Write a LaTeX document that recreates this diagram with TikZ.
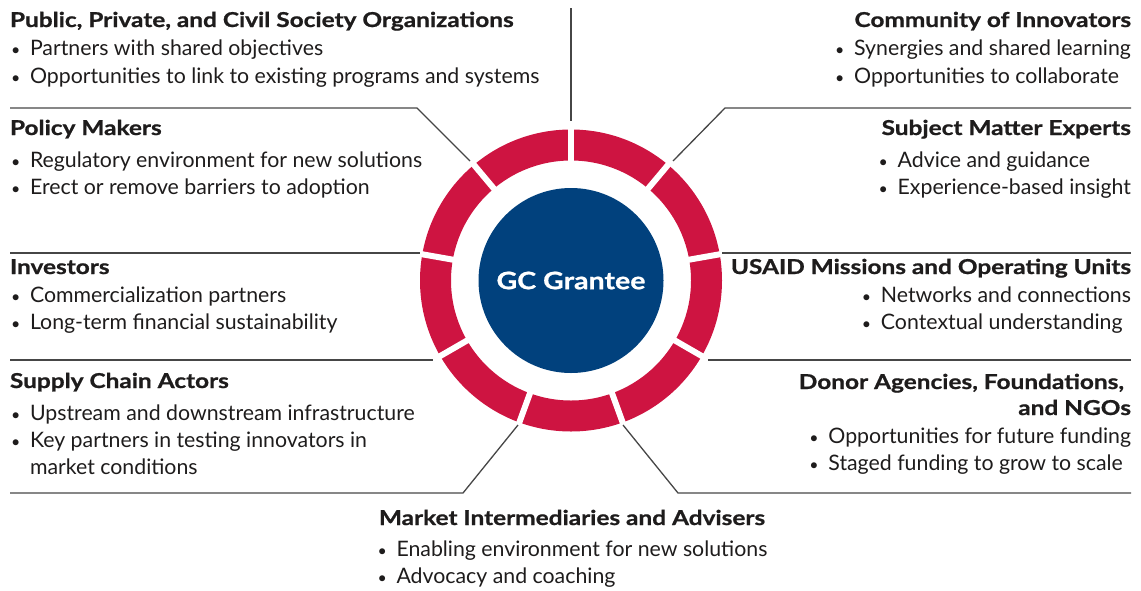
\documentclass[tikz,border=0pt]{standalone}
\usepackage{fontspec}
\setmainfont{Lato}[BoldFeatures={FakeStretch=1.19,FakeBold=0.9}]
\definecolor{ringred}{RGB}{206,20,65}
\definecolor{gcblue}{RGB}{1,65,125}
\definecolor{txtc}{RGB}{30,28,28}
\definecolor{rulec}{RGB}{70,70,70}
\newcommand\bul{\makebox[20pt][l]{\hspace{1pt}\scalebox{0.75}{\textbullet}}}
\newlength\wCom \newlength\wSme \newlength\wUsa \newlength\wDon \newlength\wMkt
\begin{document}
\fontsize{21.3}{25}\selectfont
\settowidth\wCom{\bul Synergies and shared learning}
\settowidth\wSme{\bul Experience-based insight}
\settowidth\wUsa{\bul Networks and connections}
\settowidth\wDon{\bul Opportunities for future funding}
\settowidth\wMkt{\bul Enabling environment for new solutions}
\begin{tikzpicture}[x=1pt,y=-1pt,
  every node/.style={inner sep=0pt, outer sep=0pt, text=txtc},
  hd/.style={font=\fontsize{20.5}{24}\selectfont\bfseries},
  lw/.style={anchor=base west},
  le/.style={anchor=base east},
  rul/.style={draw=rulec, line width=1.3pt}]
\useasboundingbox (0,0) rectangle (1141,590);
\coordinate (C) at (571,280.5);
% ring
\fill[ringred, even odd rule] (C) circle[radius=151pt] circle[radius=120pt];
\foreach \a in {10,50,...,330}
  \draw[white, line width=6pt] (C) ++(-\a:112) -- ++(-\a:46);
\node[circle, fill=gcblue, minimum size=185pt, text=white,
      font=\fontsize{24}{28}\selectfont\bfseries] (gc) at (C) {GC Grantee};
% separator lines
\coordinate (t0) at (571,8);   \coordinate (t1) at (571,121);
\coordinate (a0) at (10,108);  \coordinate (a1) at (417,108);  \coordinate (a2) at (470,161);
\coordinate (b0) at (1131,108);\coordinate (b1) at (725,108);  \coordinate (b2) at (673,161);
\coordinate (c0) at (10,253);  \coordinate (c1) at (420,253);
\coordinate (d0) at (1131,253);\coordinate (d1) at (722,253);
\coordinate (e0) at (10,360);  \coordinate (e1) at (433,360);
\coordinate (f0) at (1131,360);\coordinate (f1) at (708,360);
\coordinate (g0) at (10,493);  \coordinate (g1) at (463,493);  \coordinate (g2) at (518,425);
\coordinate (h0) at (1131,493);\coordinate (h1) at (678,493);  \coordinate (h2) at (623,425);
\draw[rul] (t0) -- (t1);
\draw[rul] (a0) -- (a1) -- (a2);
\draw[rul] (b0) -- (b1) -- (b2);
\draw[rul] (c0) -- (c1);
\draw[rul] (d0) -- (d1);
\draw[rul] (e0) -- (e1);
\draw[rul] (f0) -- (f1);
\draw[rul] (g0) -- (g1) -- (g2);
\draw[rul] (h0) -- (h1) -- (h2);
% left blocks
\node[lw,hd] (pubt) at (10,27) {Public, Private, and Civil Society Organizations};
\node[lw] (pub1) at (10,55) {\bul Partners with shared objectives};
\node[lw] (pub2) at (10,83) {\bul Opportunities to link to existing programs and systems};
\node[lw,hd] (polt) at (10,135) {Policy Makers};
\node[lw] (pol1) at (10,167) {\bul Regulatory environment for new solutions};
\node[lw] (pol2) at (10,194) {\bul Erect or remove barriers to adoption};
\node[lw,hd] (invt) at (10,274) {Investors};
\node[lw] (inv1) at (10,302) {\bul Commercialization partners};
\node[lw] (inv2) at (10,329) {\bul Long-term financial sustainability};
\node[lw,hd] (supt) at (10,388) {Supply Chain Actors};
\node[lw] (sup1) at (10,420) {\bul Upstream and downstream infrastructure};
\node[lw] (sup2) at (10,447) {\bul Key partners in testing innovators in};
\node[lw] (sup3) at (30,474) {market conditions};
% right blocks
\node[le,hd] (comt) at (1131,27) {Community of Innovators};
\node[le] (com1) at (1131,55) {\makebox[\wCom][l]{\bul Synergies and shared learning}};
\node[le] (com2) at (1131,83) {\makebox[\wCom][l]{\bul Opportunities to collaborate}};
\node[le,hd] (smet) at (1131,135) {Subject Matter Experts};
\node[le] (sme1) at (1131,167) {\makebox[\wSme][l]{\bul Advice and guidance}};
\node[le] (sme2) at (1131,194) {\makebox[\wSme][l]{\bul Experience-based insight}};
\node[le,hd] (usat) at (1131,274) {USAID Missions and Operating Units};
\node[le] (usa1) at (1131,302) {\makebox[\wUsa][l]{\bul Networks and connections}};
\node[le] (usa2) at (1131,329) {\makebox[\wUsa][l]{\bul Contextual understanding}};
\node[le,hd] (dont1) at (1124,389) {Donor Agencies, Foundations,};
\node[le,hd] (dont2) at (1131,415) {and NGOs};
\node[le] (don1) at (1131,443) {\makebox[\wDon][l]{\bul Opportunities for future funding}};
\node[le] (don2) at (1131,470) {\makebox[\wDon][l]{\bul Staged funding to grow to scale}};
% bottom block
\node[anchor=base,hd] (mktt) at (572,525) {Market Intermediaries and Advisers};
\node[anchor=base] (mkt1) at (572,556) {\makebox[\wMkt][l]{\bul Enabling environment for new solutions}};
\node[anchor=base] (mkt2) at (572,583) {\makebox[\wMkt][l]{\bul Advocacy and coaching}};
\end{tikzpicture}
\end{document}
